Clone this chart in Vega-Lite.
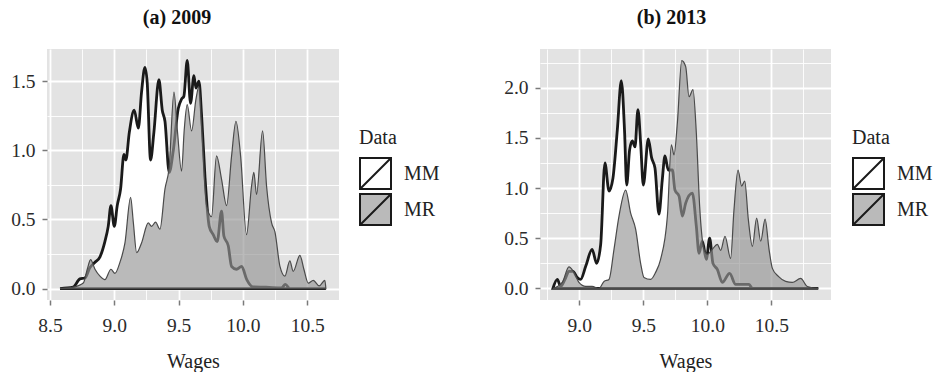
{
"$schema": "https://vega.github.io/schema/vega-lite/v6.json",
"padding": {"left": 10, "top": 8, "right": 0, "bottom": 0},
"background": "white",
"config": {
  "font": "Liberation Serif",
  "view": {"fill": "#e3e3e3", "stroke": null},
  "axis": {"domain": false, "labelFont": "Liberation Serif", "labelFontSize": 19.5, "labelColor": "#2b2b2b", "titleFont": "Liberation Serif", "titleFontSize": 20, "titleFontWeight": "normal", "titleColor": "#222222", "tickColor": "#7a7a7a", "tickSize": 5, "tickWidth": 1.5, "gridColor": "#ffffff", "labelPadding": 6},
  "title": {"font": "Liberation Serif", "fontSize": 20, "fontWeight": "bold", "color": "#111111"},
  "legend": {"orient": "none", "legendX": 312, "legendY": 79, "symbolType": "M-1,-1H1V1H-1Z M-1,1L1,-1", "symbolSize": 961, "symbolStrokeWidth": 2, "symbolStrokeColor": "#1a1a1a", "rowPadding": -13, "labelOffset": 12, "labelFontSize": 20, "labelFont": "Liberation Serif", "titleFont": "Liberation Serif", "titleFontSize": 20, "titleFontWeight": "normal", "titlePadding": 9, "padding": 0, "labelColor": "#222222", "titleColor": "#222222"}
},
"datasets": {"d": [
{"p":"a","Data":"MM","w":8.578,"d":0},{"p":"a","Data":"MM","w":8.68,"d":0.01},{"p":"a","Data":"MM","w":8.733,"d":0.07},{"p":"a","Data":"MM","w":8.772,"d":0.077},{"p":"a","Data":"MM","w":8.81,"d":0.15},{"p":"a","Data":"MM","w":8.85,"d":0.19},{"p":"a","Data":"MM","w":8.889,"d":0.23},{"p":"a","Data":"MM","w":8.927,"d":0.34},{"p":"a","Data":"MM","w":8.953,"d":0.45},{"p":"a","Data":"MM","w":8.974,"d":0.6},{"p":"a","Data":"MM","w":9.0,"d":0.45},{"p":"a","Data":"MM","w":9.023,"d":0.6},{"p":"a","Data":"MM","w":9.049,"d":0.72},{"p":"a","Data":"MM","w":9.075,"d":0.97},{"p":"a","Data":"MM","w":9.09,"d":0.93},{"p":"a","Data":"MM","w":9.117,"d":1.13},{"p":"a","Data":"MM","w":9.155,"d":1.29},{"p":"a","Data":"MM","w":9.187,"d":1.16},{"p":"a","Data":"MM","w":9.212,"d":1.42},{"p":"a","Data":"MM","w":9.238,"d":1.6},{"p":"a","Data":"MM","w":9.256,"d":1.49},{"p":"a","Data":"MM","w":9.282,"d":0.93},{"p":"a","Data":"MM","w":9.308,"d":1.13},{"p":"a","Data":"MM","w":9.347,"d":1.51},{"p":"a","Data":"MM","w":9.373,"d":1.29},{"p":"a","Data":"MM","w":9.394,"d":1.21},{"p":"a","Data":"MM","w":9.427,"d":0.84},{"p":"a","Data":"MM","w":9.459,"d":1.0},{"p":"a","Data":"MM","w":9.497,"d":1.3},{"p":"a","Data":"MM","w":9.523,"d":1.37},{"p":"a","Data":"MM","w":9.541,"d":1.39},{"p":"a","Data":"MM","w":9.567,"d":1.65},{"p":"a","Data":"MM","w":9.593,"d":1.34},{"p":"a","Data":"MM","w":9.619,"d":1.54},{"p":"a","Data":"MM","w":9.635,"d":1.45},{"p":"a","Data":"MM","w":9.658,"d":1.5},{"p":"a","Data":"MM","w":9.679,"d":1.25},{"p":"a","Data":"MM","w":9.705,"d":0.81},{"p":"a","Data":"MM","w":9.738,"d":0.45},{"p":"a","Data":"MM","w":9.769,"d":0.39},{"p":"a","Data":"MM","w":9.8,"d":0.34},{"p":"a","Data":"MM","w":9.834,"d":0.56},{"p":"a","Data":"MM","w":9.852,"d":0.38},{"p":"a","Data":"MM","w":9.886,"d":0.31},{"p":"a","Data":"MM","w":9.912,"d":0.16},{"p":"a","Data":"MM","w":9.95,"d":0.14},{"p":"a","Data":"MM","w":9.99,"d":0.16},{"p":"a","Data":"MM","w":10.03,"d":0.065},{"p":"a","Data":"MM","w":10.08,"d":0.012},{"p":"a","Data":"MM","w":10.18,"d":0.01},{"p":"a","Data":"MM","w":10.3,"d":0.005},{"p":"a","Data":"MM","w":10.33,"d":0.03},{"p":"a","Data":"MM","w":10.365,"d":0},{"p":"a","Data":"MM","w":10.645,"d":0},
{"p":"a","Data":"MR","w":8.578,"d":0},{"p":"a","Data":"MR","w":8.68,"d":0.01},{"p":"a","Data":"MR","w":8.759,"d":0.04},{"p":"a","Data":"MR","w":8.79,"d":0.14},{"p":"a","Data":"MR","w":8.816,"d":0.21},{"p":"a","Data":"MR","w":8.85,"d":0.14},{"p":"a","Data":"MR","w":8.889,"d":0.09},{"p":"a","Data":"MR","w":8.927,"d":0.065},{"p":"a","Data":"MR","w":8.974,"d":0.14},{"p":"a","Data":"MR","w":9.005,"d":0.11},{"p":"a","Data":"MR","w":9.044,"d":0.19},{"p":"a","Data":"MR","w":9.083,"d":0.33},{"p":"a","Data":"MR","w":9.127,"d":0.66},{"p":"a","Data":"MR","w":9.148,"d":0.48},{"p":"a","Data":"MR","w":9.174,"d":0.26},{"p":"a","Data":"MR","w":9.212,"d":0.33},{"p":"a","Data":"MR","w":9.264,"d":0.475},{"p":"a","Data":"MR","w":9.29,"d":0.45},{"p":"a","Data":"MR","w":9.321,"d":0.48},{"p":"a","Data":"MR","w":9.355,"d":0.43},{"p":"a","Data":"MR","w":9.394,"d":0.72},{"p":"a","Data":"MR","w":9.427,"d":0.88},{"p":"a","Data":"MR","w":9.464,"d":1.42},{"p":"a","Data":"MR","w":9.49,"d":1.15},{"p":"a","Data":"MR","w":9.523,"d":0.85},{"p":"a","Data":"MR","w":9.544,"d":1.15},{"p":"a","Data":"MR","w":9.567,"d":1.33},{"p":"a","Data":"MR","w":9.601,"d":1.14},{"p":"a","Data":"MR","w":9.635,"d":1.37},{"p":"a","Data":"MR","w":9.658,"d":1.46},{"p":"a","Data":"MR","w":9.679,"d":1.17},{"p":"a","Data":"MR","w":9.718,"d":0.6},{"p":"a","Data":"MR","w":9.756,"d":0.52},{"p":"a","Data":"MR","w":9.795,"d":0.96},{"p":"a","Data":"MR","w":9.834,"d":0.79},{"p":"a","Data":"MR","w":9.873,"d":0.6},{"p":"a","Data":"MR","w":9.912,"d":0.96},{"p":"a","Data":"MR","w":9.946,"d":1.21},{"p":"a","Data":"MR","w":9.982,"d":0.96},{"p":"a","Data":"MR","w":10.028,"d":0.39},{"p":"a","Data":"MR","w":10.067,"d":0.74},{"p":"a","Data":"MR","w":10.085,"d":0.84},{"p":"a","Data":"MR","w":10.106,"d":0.68},{"p":"a","Data":"MR","w":10.153,"d":1.14},{"p":"a","Data":"MR","w":10.184,"d":0.74},{"p":"a","Data":"MR","w":10.223,"d":0.475},{"p":"a","Data":"MR","w":10.249,"d":0.41},{"p":"a","Data":"MR","w":10.288,"d":0.16},{"p":"a","Data":"MR","w":10.326,"d":0.09},{"p":"a","Data":"MR","w":10.365,"d":0.2},{"p":"a","Data":"MR","w":10.391,"d":0.125},{"p":"a","Data":"MR","w":10.443,"d":0.24},{"p":"a","Data":"MR","w":10.474,"d":0.14},{"p":"a","Data":"MR","w":10.508,"d":0.04},{"p":"a","Data":"MR","w":10.547,"d":0.06},{"p":"a","Data":"MR","w":10.593,"d":0.02},{"p":"a","Data":"MR","w":10.637,"d":0.06},{"p":"a","Data":"MR","w":10.645,"d":0},
{"p":"b","Data":"MM","w":8.794,"d":0},{"p":"b","Data":"MM","w":8.828,"d":0.09},{"p":"b","Data":"MM","w":8.854,"d":0.02},{"p":"b","Data":"MM","w":8.888,"d":0.09},{"p":"b","Data":"MM","w":8.919,"d":0.17},{"p":"b","Data":"MM","w":8.95,"d":0.17},{"p":"b","Data":"MM","w":8.984,"d":0.11},{"p":"b","Data":"MM","w":9.01,"d":0.09},{"p":"b","Data":"MM","w":9.05,"d":0.22},{"p":"b","Data":"MM","w":9.1,"d":0.39},{"p":"b","Data":"MM","w":9.135,"d":0.25},{"p":"b","Data":"MM","w":9.167,"d":0.44},{"p":"b","Data":"MM","w":9.2,"d":1.25},{"p":"b","Data":"MM","w":9.232,"d":0.97},{"p":"b","Data":"MM","w":9.263,"d":1.1},{"p":"b","Data":"MM","w":9.297,"d":1.58},{"p":"b","Data":"MM","w":9.328,"d":2.07},{"p":"b","Data":"MM","w":9.354,"d":1.55},{"p":"b","Data":"MM","w":9.37,"d":1.03},{"p":"b","Data":"MM","w":9.393,"d":1.38},{"p":"b","Data":"MM","w":9.414,"d":1.47},{"p":"b","Data":"MM","w":9.435,"d":1.41},{"p":"b","Data":"MM","w":9.458,"d":1.78},{"p":"b","Data":"MM","w":9.479,"d":1.45},{"p":"b","Data":"MM","w":9.5,"d":1.03},{"p":"b","Data":"MM","w":9.539,"d":1.49},{"p":"b","Data":"MM","w":9.565,"d":1.3},{"p":"b","Data":"MM","w":9.591,"d":1.2},{"p":"b","Data":"MM","w":9.622,"d":0.74},{"p":"b","Data":"MM","w":9.648,"d":1.08},{"p":"b","Data":"MM","w":9.669,"d":1.32},{"p":"b","Data":"MM","w":9.695,"d":1.18},{"p":"b","Data":"MM","w":9.727,"d":1.18},{"p":"b","Data":"MM","w":9.747,"d":0.98},{"p":"b","Data":"MM","w":9.779,"d":0.92},{"p":"b","Data":"MM","w":9.805,"d":0.72},{"p":"b","Data":"MM","w":9.831,"d":0.85},{"p":"b","Data":"MM","w":9.883,"d":0.95},{"p":"b","Data":"MM","w":9.914,"d":0.62},{"p":"b","Data":"MM","w":9.935,"d":0.35},{"p":"b","Data":"MM","w":9.961,"d":0.47},{"p":"b","Data":"MM","w":9.992,"d":0.29},{"p":"b","Data":"MM","w":10.018,"d":0.5},{"p":"b","Data":"MM","w":10.044,"d":0.25},{"p":"b","Data":"MM","w":10.078,"d":0.19},{"p":"b","Data":"MM","w":10.117,"d":0.06},{"p":"b","Data":"MM","w":10.174,"d":0.15},{"p":"b","Data":"MM","w":10.221,"d":0.04},{"p":"b","Data":"MM","w":10.326,"d":0.04},{"p":"b","Data":"MM","w":10.352,"d":0},{"p":"b","Data":"MM","w":10.867,"d":0},
{"p":"b","Data":"MR","w":8.794,"d":0},{"p":"b","Data":"MR","w":8.867,"d":0.06},{"p":"b","Data":"MR","w":8.919,"d":0.215},{"p":"b","Data":"MR","w":8.958,"d":0.16},{"p":"b","Data":"MR","w":8.997,"d":0.06},{"p":"b","Data":"MR","w":9.05,"d":0.02},{"p":"b","Data":"MR","w":9.1,"d":0.02},{"p":"b","Data":"MR","w":9.154,"d":0},{"p":"b","Data":"MR","w":9.193,"d":0.07},{"p":"b","Data":"MR","w":9.232,"d":0.09},{"p":"b","Data":"MR","w":9.271,"d":0.39},{"p":"b","Data":"MR","w":9.31,"d":0.72},{"p":"b","Data":"MR","w":9.362,"d":0.98},{"p":"b","Data":"MR","w":9.401,"d":0.75},{"p":"b","Data":"MR","w":9.44,"d":0.59},{"p":"b","Data":"MR","w":9.479,"d":0.25},{"p":"b","Data":"MR","w":9.505,"d":0.11},{"p":"b","Data":"MR","w":9.557,"d":0.09},{"p":"b","Data":"MR","w":9.596,"d":0.16},{"p":"b","Data":"MR","w":9.635,"d":0.29},{"p":"b","Data":"MR","w":9.688,"d":0.72},{"p":"b","Data":"MR","w":9.719,"d":1.43},{"p":"b","Data":"MR","w":9.74,"d":1.33},{"p":"b","Data":"MR","w":9.766,"d":1.65},{"p":"b","Data":"MR","w":9.8,"d":2.27},{"p":"b","Data":"MR","w":9.831,"d":2.21},{"p":"b","Data":"MR","w":9.857,"d":1.91},{"p":"b","Data":"MR","w":9.888,"d":1.98},{"p":"b","Data":"MR","w":9.914,"d":1.55},{"p":"b","Data":"MR","w":9.94,"d":0.82},{"p":"b","Data":"MR","w":9.974,"d":0.39},{"p":"b","Data":"MR","w":10.0,"d":0.34},{"p":"b","Data":"MR","w":10.039,"d":0.39},{"p":"b","Data":"MR","w":10.078,"d":0.44},{"p":"b","Data":"MR","w":10.104,"d":0.38},{"p":"b","Data":"MR","w":10.138,"d":0.52},{"p":"b","Data":"MR","w":10.182,"d":0.3},{"p":"b","Data":"MR","w":10.208,"d":0.78},{"p":"b","Data":"MR","w":10.24,"d":1.18},{"p":"b","Data":"MR","w":10.268,"d":1.02},{"p":"b","Data":"MR","w":10.292,"d":1.07},{"p":"b","Data":"MR","w":10.32,"d":0.69},{"p":"b","Data":"MR","w":10.352,"d":0.42},{"p":"b","Data":"MR","w":10.385,"d":0.7},{"p":"b","Data":"MR","w":10.417,"d":0.47},{"p":"b","Data":"MR","w":10.451,"d":0.69},{"p":"b","Data":"MR","w":10.482,"d":0.39},{"p":"b","Data":"MR","w":10.508,"d":0.2},{"p":"b","Data":"MR","w":10.555,"d":0.12},{"p":"b","Data":"MR","w":10.612,"d":0.07},{"p":"b","Data":"MR","w":10.664,"d":0.06},{"p":"b","Data":"MR","w":10.729,"d":0.1},{"p":"b","Data":"MR","w":10.781,"d":0.02},{"p":"b","Data":"MR","w":10.867,"d":0}
]},
"spacing": 63,
"resolve": {"scale": {"x": "independent", "y": "independent", "fill": "independent"}, "legend": {"fill": "independent"}},
"hconcat": [
{
  "title": {"text": "(a) 2009", "dx": -16, "offset": 21},
  "width": 292, "height": 251,
  "data": {"name": "d"},
  "transform": [{"filter": "datum.p == 'a'"}],
  "encoding": {
    "x": {"field": "w", "type": "quantitative", "title": "Wages", "scale": {"domain": [8.477, 10.747], "nice": false, "zero": false},
      "axis": {"values": [8.5, 8.75, 9, 9.25, 9.5, 9.75, 10, 10.25, 10.5], "labelExpr": "datum.value % 0.5 == 0 ? format(datum.value, '.1f') : ''", "gridWidth": {"condition": {"test": "datum.value % 0.5 == 0", "value": 1.8}, "value": 0.9}, "tickOpacity": {"condition": {"test": "datum.value % 0.5 == 0", "value": 1}, "value": 0}, "labelPadding": 11, "titlePadding": 17}},
    "y": {"field": "d", "type": "quantitative", "title": null, "stack": null, "scale": {"domain": [-0.0825, 1.7325], "nice": false, "zero": false},
      "axis": {"values": [0, 0.25, 0.5, 0.75, 1, 1.25, 1.5], "labelExpr": "datum.value % 0.5 == 0 ? format(datum.value, '.1f') : ''", "gridWidth": {"condition": {"test": "datum.value % 0.5 == 0", "value": 1.8}, "value": 0.9}, "tickOpacity": {"condition": {"test": "datum.value % 0.5 == 0", "value": 1}, "value": 0}, "labelPadding": 7}},
    "fill": {"field": "Data", "type": "nominal", "scale": {"domain": ["MM", "MR"], "range": ["#ffffff", "#959595"]},
      "legend": {"title": "Data", "encode": {"symbols": {"update": {"stroke": {"value": "#1a1a1a"}, "strokeWidth": {"value": 2}, "fillOpacity": {"value": 0.65}, "opacity": {"value": 1}}}}}}
  },
  "layer": [
    {"transform": [{"filter": "datum.Data == 'MM'"}], "mark": {"type": "area", "interpolate": "monotone", "stroke": "#1a1a1a", "strokeWidth": 2.8, "fillOpacity": 1, "clip": true}},
    {"transform": [{"filter": "datum.Data == 'MR'"}], "mark": {"type": "area", "interpolate": "monotone", "stroke": "#4a4a4a", "strokeWidth": 1.2, "fillOpacity": 0.65, "clip": true}}
  ]
},
{
  "title": {"text": "(b) 2013", "dx": -14, "offset": 21},
  "width": 291, "height": 251,
  "data": {"name": "d"},
  "transform": [{"filter": "datum.p == 'b'"}],
  "encoding": {
    "x": {"field": "w", "type": "quantitative", "title": "Wages", "scale": {"domain": [8.693, 10.966], "nice": false, "zero": false},
      "axis": {"values": [8.75, 9, 9.25, 9.5, 9.75, 10, 10.25, 10.5, 10.75], "labelExpr": "datum.value % 0.5 == 0 ? format(datum.value, '.1f') : ''", "gridWidth": {"condition": {"test": "datum.value % 0.5 == 0", "value": 1.8}, "value": 0.9}, "tickOpacity": {"condition": {"test": "datum.value % 0.5 == 0", "value": 1}, "value": 0}, "labelPadding": 11, "titlePadding": 17}},
    "y": {"field": "d", "type": "quantitative", "title": null, "stack": null, "scale": {"domain": [-0.115, 2.385], "nice": false, "zero": false},
      "axis": {"values": [0, 0.25, 0.5, 0.75, 1, 1.25, 1.5, 1.75, 2, 2.25], "labelExpr": "datum.value % 0.5 == 0 ? format(datum.value, '.1f') : ''", "gridWidth": {"condition": {"test": "datum.value % 0.5 == 0", "value": 1.8}, "value": 0.9}, "tickOpacity": {"condition": {"test": "datum.value % 0.5 == 0", "value": 1}, "value": 0}, "labelPadding": 7}},
    "fill": {"field": "Data", "type": "nominal", "scale": {"domain": ["MM", "MR"], "range": ["#ffffff", "#959595"]},
      "legend": {"title": "Data", "encode": {"symbols": {"update": {"stroke": {"value": "#1a1a1a"}, "strokeWidth": {"value": 2}, "fillOpacity": {"value": 0.65}, "opacity": {"value": 1}}}}}}
  },
  "layer": [
    {"transform": [{"filter": "datum.Data == 'MM'"}], "mark": {"type": "area", "interpolate": "monotone", "stroke": "#1a1a1a", "strokeWidth": 2.8, "fillOpacity": 1, "clip": true}},
    {"transform": [{"filter": "datum.Data == 'MR'"}], "mark": {"type": "area", "interpolate": "monotone", "stroke": "#4a4a4a", "strokeWidth": 1.2, "fillOpacity": 0.65, "clip": true}}
  ]
}
]
}
